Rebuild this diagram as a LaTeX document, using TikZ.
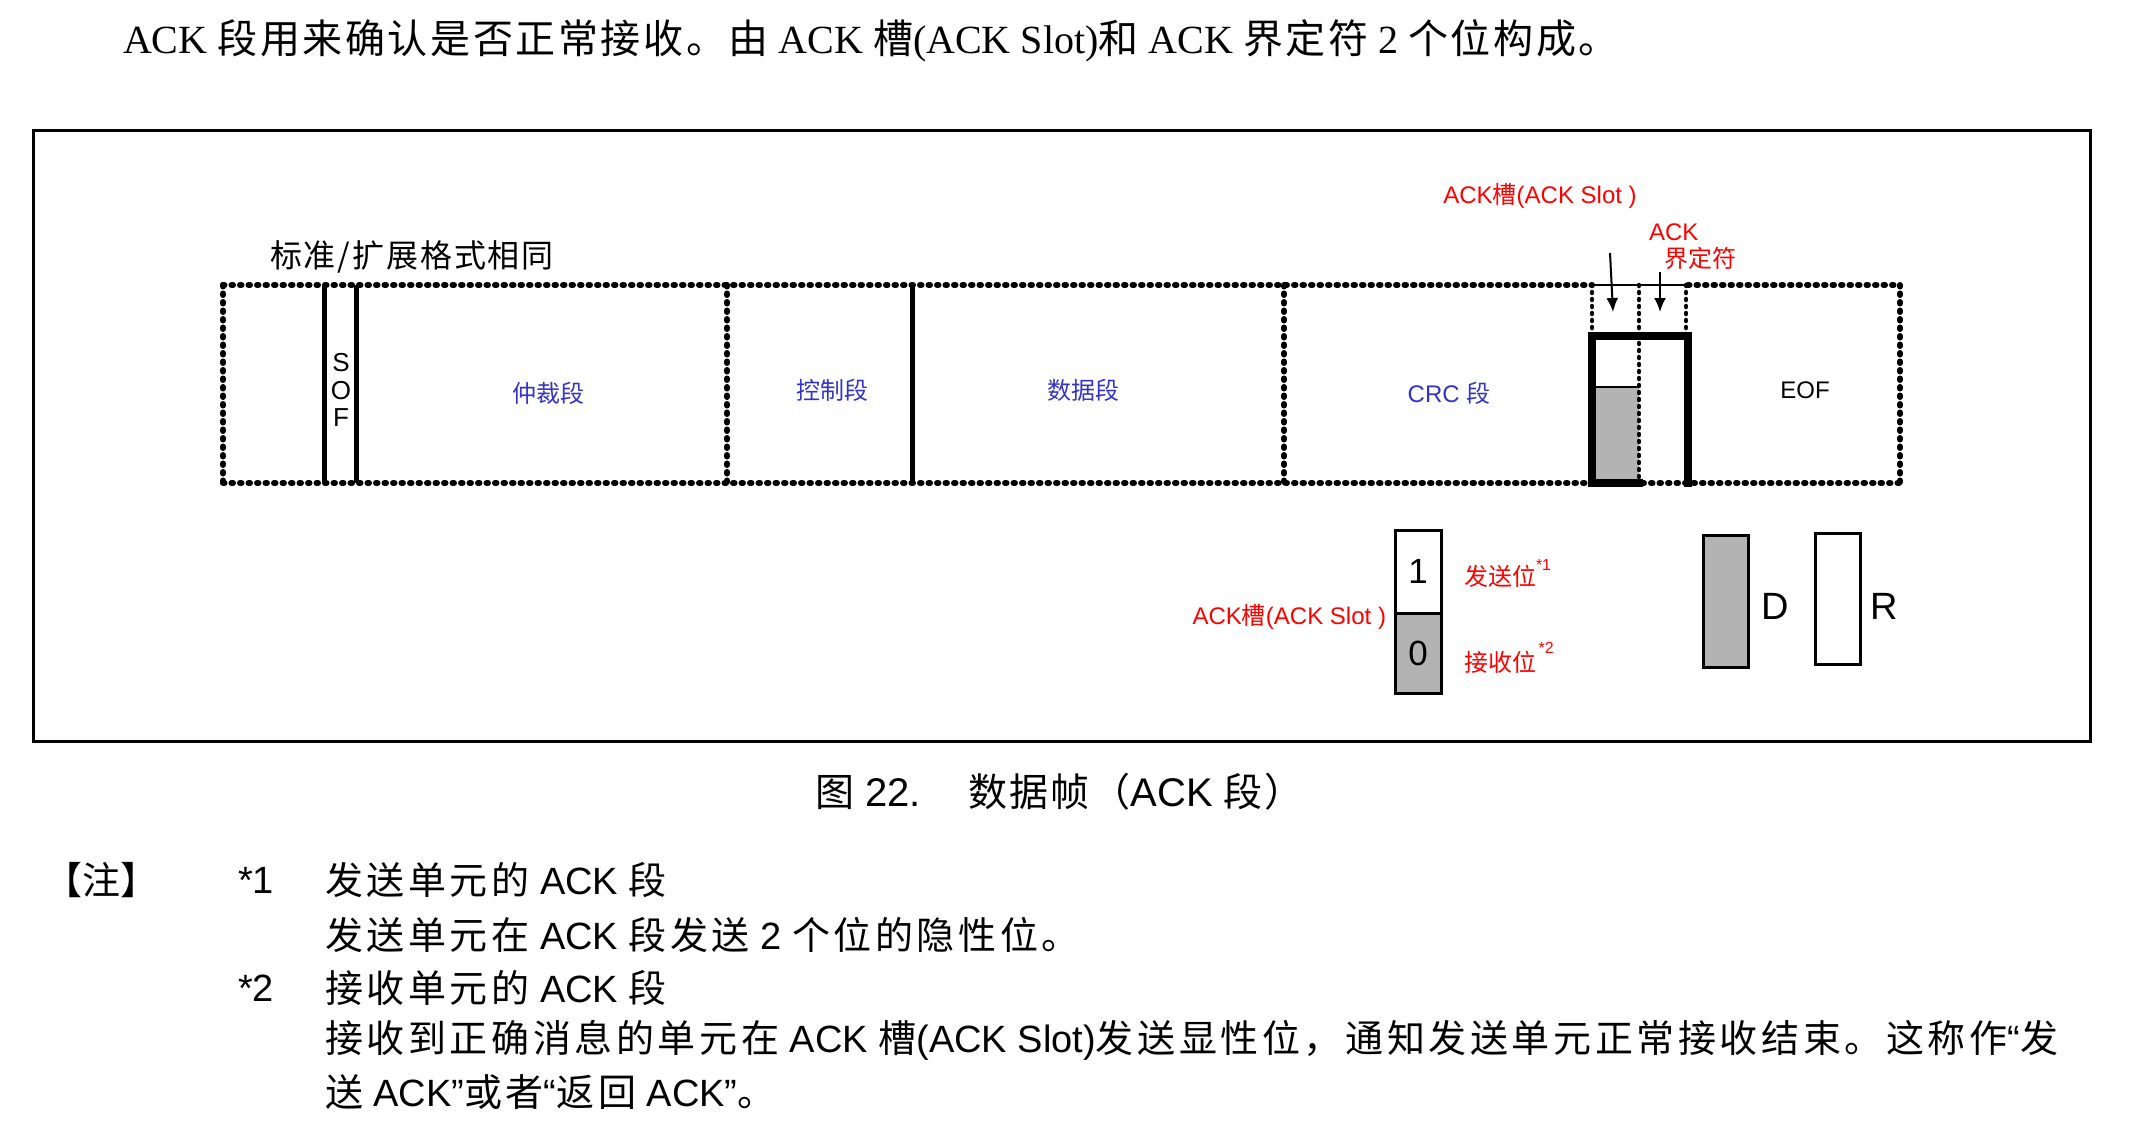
\documentclass[tikz,border=0pt]{standalone}
\usepackage{fontspec}
\setmainfont{Liberation Serif}
\newfontfamily\ar{Liberation Sans}
\newfontfamily\cjk{Noto Sans CJK SC}
\newfontfamily\cjkt[LetterSpace=6.5]{Noto Sans CJK SC}
\newfontfamily\cjkn[LetterSpace=9.5]{Noto Sans CJK SC}
\newfontfamily\cjkc[LetterSpace=5]{Noto Sans CJK SC}
\newfontfamily\cjkl[LetterSpace=6]{Noto Sans CJK SC}
\usetikzlibrary{arrows.meta}
\definecolor{cblue}{RGB}{51,51,204}
\definecolor{cgray}{RGB}{179,179,179}
\definecolor{cred}{RGB}{255,0,0}
\newcommand\A[1]{{\ar #1}}
\begin{document}
\begin{tikzpicture}[x=1pt,y=-1pt,
  txt/.style={inner sep=0pt, outer sep=0pt},
  bluelbl/.style={txt, text=cblue, font=\fontsize{24}{26}\selectfont\cjk},
  redlbl/.style={txt, text=cred, font=\fontsize{24}{26}\selectfont\cjk},
  note/.style={txt, anchor=west, font=\fontsize{38}{42}\selectfont\cjkn},
  framebox/.style={line width=3pt},
  dotline/.style={line width=6pt, line cap=round, dash pattern=on 1.5pt off 7pt},
  dotthin/.style={line width=4.5pt, line cap=round, dash pattern=on 1pt off 6pt},
  solidline/.style={line width=5pt},
  thickline/.style={line width=7.5pt, line cap=rect, line join=miter},
  bitbox/.style={draw, line width=3pt, inner sep=0pt, minimum width=46pt, font=\fontsize{35}{37}\selectfont\ar},
  legbox/.style={draw, line width=3pt, inner sep=0pt, minimum width=45pt, minimum height=131pt},
  arr/.style={line width=2pt, -{Latex[length=14pt,width=12pt]}}
]
\fill[white] (0,0) rectangle (2141,1136);
\useasboundingbox (0,0) rectangle (2141,1136);

% intro line
\node[txt, anchor=west, font=\fontsize{40}{44}\selectfont] (intro) at (123,41)
  {ACK {\cjkt 段用来确认是否正常接收。由} ACK {\cjkt 槽}(ACK Slot){\cjkt 和} ACK {\cjkt 界定符} 2 {\cjkt 个位构成。}};

% outer frame
\draw[framebox] (33,130) rectangle (2090,741);

% title inside
\node[txt, anchor=west, font=\fontsize{32}{34}\selectfont\cjkl] (ttl) at (270,257) {标准/扩展格式相同};

% frame fields
\draw[dotline] (223,285) -- (1592,285);
\draw[dotline] (1688,285) -- (1900,285);
\draw[dotline] (223,483) -- (1900,483);
\foreach \x in {223,727,1284,1900} \draw[dotline] (\x,285) -- (\x,483);
\foreach \x in {324,356,912} \draw[solidline] (\x,285) -- (\x,483);

% ACK field
\draw[line width=1.5pt] (1592,285) -- (1688,285);
\fill[cgray] (1592,387) rectangle (1639,483);
\draw[line width=1.5pt] (1592,387) -- (1639,387);
\foreach \x in {1592,1639,1686} \draw[dotthin] (\x,285) -- (\x,336);
\draw[dotthin] (1639,336) -- (1639,483);
\draw[thickline] (1592,483) -- (1592,336) -- (1688,336) -- (1688,483);
\draw[thickline] (1592,483) -- (1639,483);

% field labels
\node[txt, align=center, font=\fontsize{26}{27.5}\selectfont\ar] (sof) at (341,390) {S\\O\\F};
\node[bluelbl] (arb) at (548,393) {仲裁段};
\node[bluelbl] (ctl) at (832,390) {控制段};
\node[bluelbl] (dat) at (1083,390) {数据段};
\node[bluelbl] (crc) at (1449,393) {\A{CRC\ }段};
\node[txt, font=\fontsize{24}{26}\selectfont\ar] (eof) at (1805,390) {EOF};

% ACK labels and arrows
\node[redlbl] (slotlbl) at (1540,196) {\A{ACK}槽\A{(ACK Slot\ )}};
\node[redlbl, anchor=west] (delimA) at (1649,232) {\A{ACK}};
\node[redlbl, anchor=west] (delimB) at (1664,258) {界定符};
\coordinate (a1s) at (1610,253);
\coordinate (a1e) at (1613,312);
\coordinate (a2s) at (1660,272);
\coordinate (a2e) at (1660,312);
\draw[arr] (a1s) -- (a1e);
\draw[arr] (a2s) -- (a2e);

% legend
\node[bitbox, minimum height=83pt] (b1) at (1418,571.5) {1};
\node[bitbox, minimum height=80pt, fill=cgray] (b0) at (1418,653) {0};
\node[redlbl, anchor=east] (slot2) at (1386,617) {\A{ACK}槽\A{(ACK Slot\ )}};
\node[redlbl, anchor=west] (txbit) at (1464,573) {发送位\raisebox{15pt}{\fontsize{16}{16}\selectfont\ar *1}};
\node[redlbl, anchor=west] (rxbit) at (1464,658) {接收位\raisebox{18pt}{\fontsize{16}{16}\selectfont\ar\,*2}};
\node[legbox, fill=cgray, minimum height=132pt] (dbox) at (1726,601) {};
\node[legbox] (rbox) at (1837.5,598.5) {};
\node[txt, font=\fontsize{38}{40}\selectfont\ar] (dlbl) at (1775,606) {D};
\node[txt, font=\fontsize{38}{40}\selectfont\ar] (rlbl) at (1884,606) {R};

% caption
\node[txt, anchor=west, font=\fontsize{39}{42}\selectfont\cjkc] (cap) at (815,792)
  {图\A{\fontsize{40}{44}\selectfont\ 22.}\hspace{48pt}数据帧（\A{\fontsize{40}{44}\selectfont ACK\ }段）};

% notes
\node[txt, font=\fontsize{38}{40}\selectfont\cjk] (nt) at (101,880) {【注】};
\node[note] (m1) at (238,880) {\A{*1}};
\node[note] (l1) at (325,880) {发送单元的\A{\ ACK\ }段};
\node[note] (l2) at (325,935) {发送单元在\A{\ ACK\ }段发送\A{\ 2\ }个位的隐性位。};
\node[note] (m2) at (238,988) {\A{*2}};
\node[note] (l3) at (325,988) {接收单元的\A{\ ACK\ }段};
\node[note] (l4) at (325,1040) {接收到正确消息的单元在\A{\ ACK\ }槽\A{(ACK Slot)}发送显性位，通知发送单元正常接收结束。这称作\A{“}发};
\node[note] (l5) at (325,1092) {送\A{\ ACK”}或者\A{“}返回\A{\ ACK”}。};
\end{tikzpicture}
\end{document}
